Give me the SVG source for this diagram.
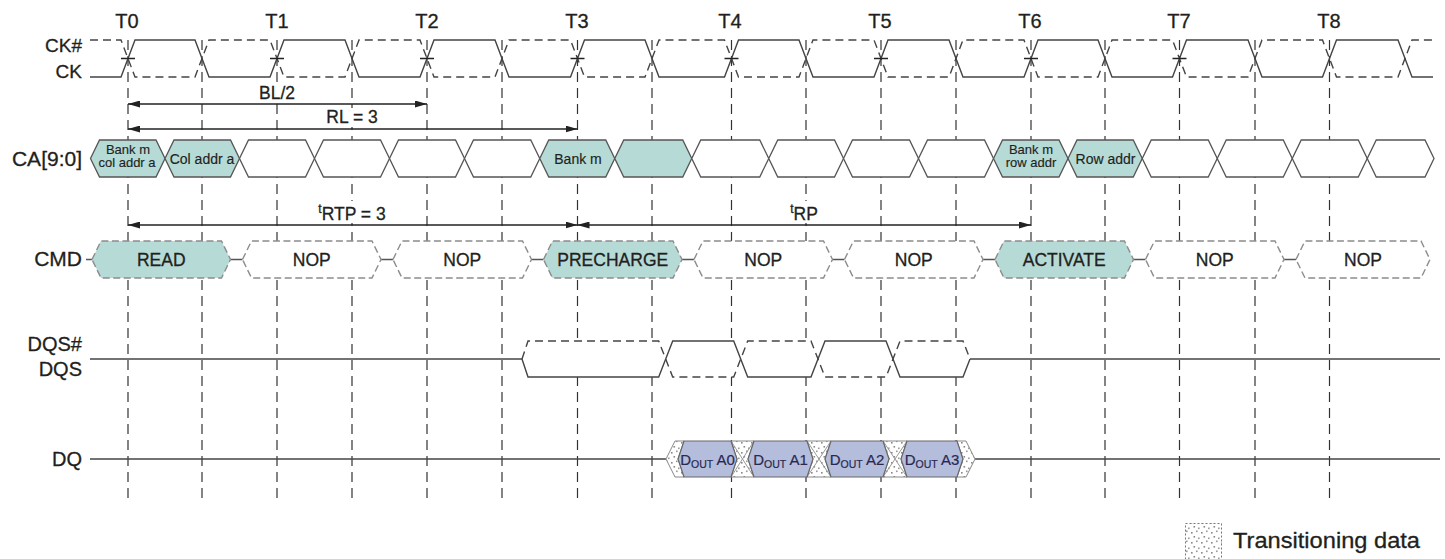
<svg xmlns="http://www.w3.org/2000/svg" width="1445" height="559" viewBox="0 0 1445 559">
<style>
text{font-family:"Liberation Sans",Arial,sans-serif;fill:#231f20;stroke:#231f20;stroke-width:0.3}
.tl{font-size:20px;text-anchor:middle}
.lbl{font-size:20px;text-anchor:end}
.al{font-size:17.5px;text-anchor:middle}
.cmdt{font-size:17.5px;text-anchor:middle}
.cat{font-size:14px;text-anchor:middle;stroke-width:0.15}
.cat2{font-size:13px;text-anchor:middle;stroke-width:0.15}
.dqt{font-size:15px;text-anchor:middle;fill:#2a2850;stroke:#2a2850;stroke-width:0.2}
.grid{stroke:#333;stroke-width:1.2;stroke-dasharray:10 6;fill:none}
.sig{stroke:#444;stroke-width:1.4;fill:none}
.sigd{stroke:#444;stroke-width:1.4;fill:none;stroke-dasharray:8 5}
.ca{stroke:#555;stroke-width:1.3;fill:#fff}
.cmd{stroke:#8c8c8c;stroke-width:1.4;fill:#fff;stroke-dasharray:7 3.5}
.ca.teal,.cmd.teal{fill:#b6dad6}
.dq{stroke:#666;stroke-width:1.2;fill:#b4bedc}
.tr{stroke:#888;stroke-width:1;fill:url(#stip)}
.arr{stroke:#222;stroke-width:1.3;fill:none;marker-start:url(#ah);marker-end:url(#ah)}
.conn{stroke:#555;stroke-width:1.4}
.knock{fill:#fff}
</style>
<defs>
<marker id="ah" viewBox="0 0 12 7" refX="12" refY="3.5" markerUnits="userSpaceOnUse" markerWidth="12" markerHeight="7" orient="auto-start-reverse"><path d="M0,0 L12,3.5 L0,7 z" fill="#222"/></marker>
<pattern id="stip" width="10" height="10" patternUnits="userSpaceOnUse"><rect width="10" height="10" fill="#fff"/><rect x="1" y="2" width="1.6" height="1.6" fill="#888"/><rect x="6" y="0.5" width="1.6" height="1.6" fill="#999"/><rect x="3.5" y="6" width="1.6" height="1.6" fill="#888"/><rect x="8" y="7.5" width="1.6" height="1.6" fill="#999"/></pattern>
</defs>
<rect width="1445" height="559" fill="#fff"/>

<g id="grid">
<path class="grid" d="M128,40V498M202,40V498M277,40V498M352,40V498M427,40V498M502,40V498M577.5,40V498M652,40V498M731.5,40V498M806,40V498M881,40V498M956,40V498M1031,40V498M1105,40V498M1179.5,40V498M1255,40V498M1329.5,40V498"/>
</g>

<g id="time-labels">
<text class="tl" x="127" y="28">T0</text>
<text class="tl" x="277" y="28">T1</text>
<text class="tl" x="427" y="28">T2</text>
<text class="tl" x="577" y="28">T3</text>
<text class="tl" x="730" y="28">T4</text>
<text class="tl" x="880" y="28">T5</text>
<text class="tl" x="1030" y="28">T6</text>
<text class="tl" x="1179" y="28">T7</text>
<text class="tl" x="1329" y="28">T8</text>
</g>

<g id="row-labels">
<text class="lbl" x="82" y="52" style="font-size:19px">CK#</text>
<text class="lbl" x="82" y="78" style="font-size:19px">CK</text>
<text class="lbl" x="82" y="166" style="font-size:21px">CA[9:0]</text>
<text class="lbl" x="82" y="266" style="font-size:21px">CMD</text>
<text class="lbl" x="82" y="351">DQS#</text>
<text class="lbl" x="82" y="376">DQS</text>
<text class="lbl" x="82" y="466">DQ</text>
</g>

<g id="clock">
<polyline class="sig" points="90,77 121,77 135,40 195,40 209,77 270,77 284,40 345,40 359,77 420,77 434,40 495,40 509,77 570.5,77 584.5,40 645,40 659,77 724.5,77 738.5,40 799,40 813,77 874,77 888,40 949,40 963,77 1024,77 1038,40 1098,40 1112,77 1172.5,77 1186.5,40 1248,40 1262,77 1322.5,77 1336.5,40 1398,40 1412,77 1433,77"/>
<polyline class="sigd" points="90,40 121,40 135,77 195,77 209,40 270,40 284,77 345,77 359,40 420,40 434,77 495,77 509,40 570.5,40 584.5,77 645,77 659,40 724.5,40 738.5,77 799,77 813,40 874,40 888,77 949,77 963,40 1024,40 1038,77 1098,77 1112,40 1172.5,40 1186.5,77 1248,77 1262,40 1322.5,40 1336.5,77 1398,77 1412,40 1433,40"/>
<path stroke="#222" stroke-width="1.3" d="M121,58.5h14M270,58.5h14M420,58.5h14M570.5,58.5h14M724.5,58.5h14M874,58.5h14M1024,58.5h14M1172.5,58.5h14"/>
</g>

<g id="connectors">
<rect class="knock" x="257" y="84" width="41" height="18"/>
<rect class="knock" x="322" y="108" width="61" height="19"/>
<rect class="knock" x="313" y="201" width="80" height="22"/>
<rect class="knock" x="786" y="201" width="37" height="22"/>
<line class="arr" x1="128" y1="104" x2="427" y2="104"/>
<text class="al" x="277" y="99">BL/2</text>
<line class="arr" x1="128" y1="129" x2="577.5" y2="129"/>
<text class="al" x="352" y="123">RL = 3</text>
<line class="arr" x1="128" y1="225" x2="577.5" y2="225"/>
<text class="al" x="352" y="220"><tspan font-size="12" dy="-7">t</tspan><tspan dy="7">RTP = 3</tspan></text>
<line class="arr" x1="577.5" y1="225" x2="1031" y2="225"/>
<text class="al" x="804" y="220"><tspan font-size="12" dy="-7">t</tspan><tspan dy="7">RP</tspan></text>
<path class="conn" d="M86,259.5H92M230.5,259.5H242.5M381,259.5H393M531.5,259.5H543.5M682,259.5H694M832.5,259.5H844.5M983,259.5H995M1133.5,259.5H1145.5M1284,259.5H1296"/>
</g>

<g id="ca-row">
<g id="ca0"><polygon class="ca teal" points="90.5,158.5 99.5,140 156,140 165,158.5 156,177 99.5,177"/><text class="cat2" x="128" y="153.5">Bank m</text><text class="cat2" x="127" y="166.5">col addr a</text></g>
<g id="ca1"><polygon class="ca teal" points="165,158.5 174,140 230.5,140 239.5,158.5 230.5,177 174,177"/><text class="cat" x="202" y="163.5">Col addr a</text></g>
<g id="ca2"><polygon class="ca" points="239.5,158.5 248.5,140 305.5,140 314.5,158.5 305.5,177 248.5,177"/></g>
<g id="ca3"><polygon class="ca" points="314.5,158.5 323.5,140 380.5,140 389.5,158.5 380.5,177 323.5,177"/></g>
<g id="ca4"><polygon class="ca" points="389.5,158.5 398.5,140 455.5,140 464.5,158.5 455.5,177 398.5,177"/></g>
<g id="ca5"><polygon class="ca" points="464.5,158.5 473.5,140 530.75,140 539.75,158.5 530.75,177 473.5,177"/></g>
<g id="ca6"><polygon class="ca teal" points="539.75,158.5 548.75,140 605.75,140 614.75,158.5 605.75,177 548.75,177"/><text class="cat" x="578" y="163.5">Bank m</text></g>
<g id="ca7"><polygon class="ca teal" points="614.75,158.5 623.75,140 682.75,140 691.75,158.5 682.75,177 623.75,177"/></g>
<g id="ca8"><polygon class="ca" points="691.75,158.5 700.75,140 759.75,140 768.75,158.5 759.75,177 700.75,177"/></g>
<g id="ca9"><polygon class="ca" points="768.75,158.5 777.75,140 834.5,140 843.5,158.5 834.5,177 777.75,177"/></g>
<g id="ca10"><polygon class="ca" points="843.5,158.5 852.5,140 909.5,140 918.5,158.5 909.5,177 852.5,177"/></g>
<g id="ca11"><polygon class="ca" points="918.5,158.5 927.5,140 984.5,140 993.5,158.5 984.5,177 927.5,177"/></g>
<g id="ca12"><polygon class="ca teal" points="993.5,158.5 1002.5,140 1059,140 1068,158.5 1059,177 1002.5,177"/><text class="cat2" x="1031" y="153.5">Bank m</text><text class="cat2" x="1031" y="166.5">row addr</text></g>
<g id="ca13"><polygon class="ca teal" points="1068,158.5 1077,140 1133.25,140 1142.25,158.5 1133.25,177 1077,177"/><text class="cat" x="1105.5" y="163.5">Row addr</text></g>
<g id="ca14"><polygon class="ca" points="1142.25,158.5 1151.25,140 1208.25,140 1217.25,158.5 1208.25,177 1151.25,177"/></g>
<g id="ca15"><polygon class="ca" points="1217.25,158.5 1226.25,140 1283.25,140 1292.25,158.5 1283.25,177 1226.25,177"/></g>
<g id="ca16"><polygon class="ca" points="1292.25,158.5 1301.25,140 1358.25,140 1367.25,158.5 1358.25,177 1301.25,177"/></g>
<g id="ca17"><polygon class="ca" points="1367.25,158.5 1376.25,140 1425,140 1434,158.5 1425,177 1376.25,177"/></g>
</g>

<g id="cmd-row">
<g id="cmd-read"><polygon class="cmd teal" points="92,259.5 101,241 221.5,241 230.5,259.5 221.5,278 101,278"/><text class="cmdt" x="161.25" y="266">READ</text></g>
<g id="cmd-nop1"><polygon class="cmd" points="242.5,259.5 251.5,241 372,241 381,259.5 372,278 251.5,278"/><text class="cmdt" x="311.75" y="266">NOP</text></g>
<g id="cmd-nop2"><polygon class="cmd" points="393,259.5 402,241 522.5,241 531.5,259.5 522.5,278 402,278"/><text class="cmdt" x="462.25" y="266">NOP</text></g>
<g id="cmd-precharge"><polygon class="cmd teal" points="543.5,259.5 552.5,241 673,241 682,259.5 673,278 552.5,278"/><text class="cmdt" x="612.75" y="266">PRECHARGE</text></g>
<g id="cmd-nop3"><polygon class="cmd" points="694,259.5 703,241 823.5,241 832.5,259.5 823.5,278 703,278"/><text class="cmdt" x="763.25" y="266">NOP</text></g>
<g id="cmd-nop4"><polygon class="cmd" points="844.5,259.5 853.5,241 974,241 983,259.5 974,278 853.5,278"/><text class="cmdt" x="913.75" y="266">NOP</text></g>
<g id="cmd-activate"><polygon class="cmd teal" points="995,259.5 1004,241 1124.5,241 1133.5,259.5 1124.5,278 1004,278"/><text class="cmdt" x="1064.25" y="266">ACTIVATE</text></g>
<g id="cmd-nop5"><polygon class="cmd" points="1145.5,259.5 1154.5,241 1275,241 1284,259.5 1275,278 1154.5,278"/><text class="cmdt" x="1214.75" y="266">NOP</text></g>
<g id="cmd-nop6"><polygon class="cmd" points="1296,259.5 1305,241 1421,241 1430,259.5 1421,278 1305,278"/><text class="cmdt" x="1363" y="266">NOP</text></g>
</g>

<g id="dqs">
<line class="sig" x1="90" y1="359" x2="522" y2="359"/>
<polygon fill="#fff" points="522,359 528,341 963,341 970,359 963,377 528,377"/>
<polyline class="sig" points="522,359 528,377 658.7,377 672.7,341 733.7,341 747.7,377 811,377 825,341 886,341 900,377 963,377 970,359"/>
<polyline class="sigd" points="522,359 528,341 658.7,341 672.7,377 733.7,377 747.7,341 811,341 825,377 886,377 900,341 963,341 970,359"/>
<line class="sig" x1="970" y1="359" x2="1440" y2="359"/>
</g>

<g id="dq">
<line class="sig" x1="90" y1="459" x2="666" y2="459"/>
<line class="sig" x1="975" y1="459" x2="1440" y2="459"/>
<polygon class="tr" points="666,459 675,441 684,441 678,459 684,477 675,477"/>
<polygon class="tr" points="731,441 754,441 748,459 754,477 731,477 737,459"/>
<polygon class="tr" points="807,441 831,441 825,459 831,477 807,477 813,459"/>
<polygon class="tr" points="883,441 907,441 901,459 907,477 883,477 889,459"/>
<polygon class="tr" points="957,441 966,441 975,459 966,477 957,477 963,459"/>
<path stroke="#999" stroke-width="1" d="M731,441L754,477M754,441L731,477M807,441L831,477M831,441L807,477M883,441L907,477M907,441L883,477"/>
<g id="dq-a0"><polygon class="dq" points="678,459 684,441 731,441 737,459 731,477 684,477"/><text class="dqt" x="707.5" y="465">D<tspan font-size="10.5" dy="3">OUT</tspan><tspan dy="-3"> A0</tspan></text></g>
<g id="dq-a1"><polygon class="dq" points="748,459 754,441 807,441 813,459 807,477 754,477"/><text class="dqt" x="780.5" y="465">D<tspan font-size="10.5" dy="3">OUT</tspan><tspan dy="-3"> A1</tspan></text></g>
<g id="dq-a2"><polygon class="dq" points="825,459 831,441 883,441 889,459 883,477 831,477"/><text class="dqt" x="857" y="465">D<tspan font-size="10.5" dy="3">OUT</tspan><tspan dy="-3"> A2</tspan></text></g>
<g id="dq-a3"><polygon class="dq" points="901,459 907,441 957,441 963,459 957,477 907,477"/><text class="dqt" x="932" y="465">D<tspan font-size="10.5" dy="3">OUT</tspan><tspan dy="-3"> A3</tspan></text></g>
</g>

<g id="legend">
<rect x="1185.5" y="523.5" width="36" height="36" fill="url(#stip)" stroke="#777" stroke-dasharray="2 2"/>
<text x="1233" y="548" style="font-size:22px" textLength="187" lengthAdjust="spacingAndGlyphs">Transitioning data</text>
</g>
</svg>
